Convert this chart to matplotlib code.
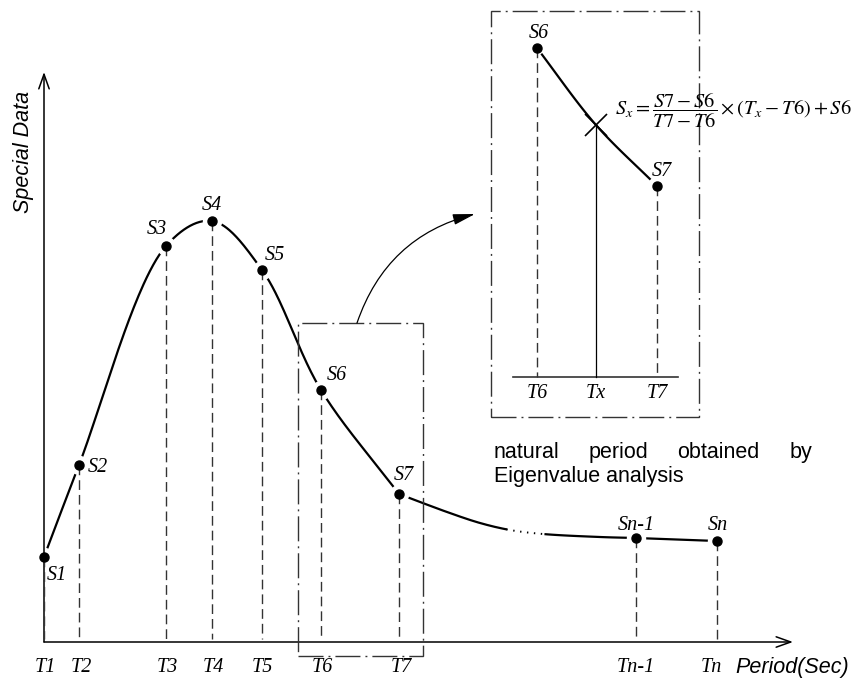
import numpy as np
import matplotlib.pyplot as plt
from matplotlib.patches import Rectangle, FancyArrowPatch

plt.rcParams['lines.scale_dashes'] = False
plt.rcParams['mathtext.fontset'] = 'stix'

# main spectrum points (origin = axis corner)
t_labels = ['T1', 'T2', 'T3', 'T4', 'T5', 'T6', 'T7', 'Tn-1', 'Tn']
s_labels = ['S1', 'S2', 'S3', 'S4', 'S5', 'S6', 'S7', 'Sn-1', 'Sn']
T = [0, 35, 122, 168, 218, 277, 355, 592, 673]
S = [85, 177, 396, 421, 372, 252, 148, 104, 101]

# extra knots on the long tail between S7 and Sn-1
tail_x = [403, 436, 466, 499, 556]
tail_y = [130, 119, 112, 108, 105]
dotted_from, dotted_to = 462, 501

# label offsets (dx, dy)
s_off = [(13, -19), (19, -2), (-9, 17), (0, 15), (13, 15), (16, 15), (5, 18), (0, 12), (1, 15)]
t_off = [1, 2, 1, 1, 0, 1, 2, 0, -6]

# zoomed detail
ins_T = [493, 552, 613]
ins_tlab = ['T6', 'Tx', 'T7']
ins_S = [594, 517, 456]
ins_base = 265

def smooth(xs, ys, n=60, alpha=0.5):
    # centripetal catmull-rom through the knots
    p = np.column_stack([xs, ys]).astype(float)
    p = np.vstack([2 * p[0] - p[1], p, 2 * p[-1] - p[-2]])
    out = []
    for i in range(1, len(p) - 2):
        p0, p1, p2, p3 = p[i - 1], p[i], p[i + 1], p[i + 2]
        t0 = 0.0
        t1 = t0 + np.linalg.norm(p1 - p0) ** alpha
        t2 = t1 + np.linalg.norm(p2 - p1) ** alpha
        t3 = t2 + np.linalg.norm(p3 - p2) ** alpha
        t = np.linspace(t1, t2, n)[:, None]
        a1 = (t1 - t) / (t1 - t0) * p0 + (t - t0) / (t1 - t0) * p1
        a2 = (t2 - t) / (t2 - t1) * p1 + (t - t1) / (t2 - t1) * p2
        a3 = (t3 - t) / (t3 - t2) * p2 + (t - t2) / (t3 - t2) * p3
        b1 = (t2 - t) / (t2 - t0) * a1 + (t - t0) / (t2 - t0) * a2
        b2 = (t3 - t) / (t3 - t1) * a2 + (t - t1) / (t3 - t1) * a3
        out.append((t2 - t) / (t2 - t1) * b1 + (t - t1) / (t2 - t1) * b2)
    c = np.vstack(out)
    return c[:, 0], c[:, 1]

fig = plt.figure(figsize=(8.59, 6.93), dpi=100)
ax = fig.add_axes([0, 0, 1, 1])
ax.set_xlim(-44, 815)
ax.set_ylim(-51, 642)
ax.axis('off')

serif = dict(family='Liberation Serif', style='italic', fontsize=14.5)
sans_i = dict(family='Liberation Sans', style='italic', fontsize=15.5)

# axes with open arrow heads
for tip in [(749, 0), (0, 570)]:
    ax.annotate('', xy=tip, xytext=(0, 0),
                arrowprops=dict(arrowstyle='->,head_length=0.7,head_width=0.25', lw=1.1, color='k',
                                shrinkA=0, shrinkB=0, mutation_scale=15), zorder=3)

# curve S1 .. S7, then tail S7 .. Sn-1
cx, cy = smooth(T[:7], S[:7])
ax.plot(cx, cy, color='k', lw=1.6, zorder=2)
tx, ty = smooth([T[6]] + tail_x + [T[7]], [S[6]] + tail_y + [S[7]])
solid1 = tx <= dotted_from
dots = (tx > dotted_from) & (tx < dotted_to)
solid2 = tx >= dotted_to
ax.plot(tx[solid1], ty[solid1], color='k', lw=1.6, zorder=2)
ax.plot(tx[dots], ty[dots], color='k', lw=1.4, ls=(0, (1, 4)), zorder=2)
ax.plot(tx[solid2], ty[solid2], color='k', lw=1.6, zorder=2)
ax.plot(T[7:], S[7:], color='k', lw=1.6, zorder=2)

# white gaps around the points, then dashed drop lines and dots
ax.plot(T, S, 'o', color='white', ms=13, zorder=2.5)
for x, y in zip(T, S):
    ax.plot([x, x], [y, 3], color='#333333', lw=1.0, ls=(0, (7, 3.6)), zorder=3)
ax.plot(T, S, 'o', color='k', ms=6.5, zorder=4)

for x, lab, dx in zip(T, t_labels, t_off):
    ax.text(x + dx, -26, lab, ha='center', va='center', **serif)
for x, y, lab, (dx, dy) in zip(T, S, s_labels, s_off):
    ax.text(x + dx, y + dy, lab, ha='center', va='center', **serif)

ax.text(-21, 490, 'Special Data', rotation=90, ha='center', va='center', **sans_i)
ax.text(691, -25, 'Period(Sec)', ha='left', va='center', **sans_i)

# dash-dot frame around S6-S7 and the zoomed box
box_ls = (0, (18, 3.6, 1.4, 3.6))
ax.add_patch(Rectangle((254, -14), 125, 333, fill=False, ec='#333333', lw=1.0, ls=box_ls, zorder=3))
ax.add_patch(Rectangle((447, 225), 208, 406, fill=False, ec='#333333', lw=1.0, ls=box_ls, zorder=3))

arr = FancyArrowPatch((313, 319), (431, 428), connectionstyle='arc3,rad=-0.27',
                      arrowstyle='-|>,head_length=0.9,head_width=0.22', mutation_scale=15,
                      color='k', lw=0.9, shrinkA=0, shrinkB=0, zorder=3)
ax.add_patch(arr)

# zoomed interpolation detail
ax.plot([469, 634], [ins_base, ins_base], color='#333333', lw=1.2, zorder=3)
ix, iy = smooth(ins_T, ins_S)
keep = (ix > 497) & (ix < 606)
ax.plot(ix[keep], iy[keep], color='k', lw=1.6, zorder=2)
ax.plot([ins_T[1], ins_T[1]], [ins_S[1], ins_base], color='k', lw=0.9, zorder=3)
ax.plot(ins_T[1], ins_S[1], marker='x', color='k', ms=16, mew=1.2, zorder=4)
for x, y in [(ins_T[0], ins_S[0]), (ins_T[2], ins_S[2])]:
    ax.plot([x, x], [y, ins_base], color='#333333', lw=1.0, ls=(0, (7, 3.6)), zorder=3)
    ax.plot(x, y, 'o', color='k', ms=6.5, zorder=4)
ax.text(ins_T[0] + 2, ins_S[0] + 15, 'S6', ha='center', va='center', **serif)
ax.text(ins_T[2] + 5, ins_S[2] + 14, 'S7', ha='center', va='center', **serif)
for x, lab in zip(ins_T, ins_tlab):
    ax.text(x, ins_base - 16, lab, ha='center', va='center', **serif)

ax.text(571, 531, r'$S_x=\dfrac{S7-S6}{T7-T6}\times(T_x-T6)+S6$', ha='left', va='center',
        fontsize=14.7)

# note text (justified first line)
words = ['natural', 'period', 'obtained', 'by']
word_x = [450, 545, 633, 768]
note = dict(family='Liberation Sans', fontsize=15.5, va='baseline')
for w, x in zip(words[:-1], word_x[:-1]):
    ax.text(x, 184, w, ha='left', **note)
ax.text(word_x[-1], 184, words[-1], ha='right', **note)
ax.text(450, 160, 'Eigenvalue analysis', ha='left', **note)

fig.savefig('out.png', dpi=100)
